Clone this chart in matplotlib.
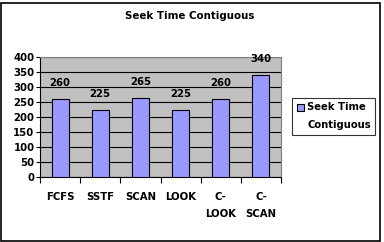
import matplotlib.pyplot as plt
from matplotlib.patches import Patch
import numpy as np

categories = ["FCFS", "SSTF", "SCAN", "LOOK", "C-\nLOOK", "C-\nSCAN"]
seek_time = [260, 225, 265, 225, 260, 340]
y_ticks = [0, 50, 100, 150, 200, 250, 300, 350, 400]

plt.rcParams['font.family'] = ['DejaVu Sans']
plt.rcParams['font.weight'] = 'bold'

W, H = 384, 242
fig = plt.figure(figsize=(W / 100, H / 100), dpi=100)
# plot area in pixels: x 40..281, y 57..177
ax = fig.add_axes([40 / W, 1 - 177 / H, 241 / W, 120 / H])
ax.set_facecolor('#c0c0c0')

x = np.arange(len(categories))
bars = ax.bar(x, seek_time, width=0.42, color='#9999ff', edgecolor='black', lw=0.8, zorder=3)
for xi, v in zip(x, seek_time):
    ax.text(xi, v + 36, str(v), ha='center', va='bottom', fontsize=7.3, fontweight='bold')

ax.set_xlim(-0.5, len(categories) - 0.5)
ax.set_ylim(0, 400)
ax.set_yticks(y_ticks)
ax.set_yticklabels([str(t) for t in y_ticks], fontsize=7.3, fontweight='bold')
ax.yaxis.grid(True, color='black', lw=0.8, zorder=0)
ax.set_axisbelow(True)

ax.set_xticks(np.arange(len(categories) + 1) - 0.5)
ax.set_xticklabels([])
ax.set_xticks(x, minor=True)
ax.set_xticklabels(categories, minor=True, fontsize=7.3, fontweight='bold', linespacing=1.9)
ax.tick_params(axis='x', which='minor', length=0, pad=11)
ax.tick_params(axis='x', which='major', length=4, width=0.8, direction='out')
ax.tick_params(axis='y', length=3, width=0.8, pad=1)

for s in ['top', 'right']:
    ax.spines[s].set_color('#808080')
    ax.spines[s].set_linewidth(0.8)
ax.spines['left'].set_color('black')
ax.spines['bottom'].set_color('black')

fig.text(190 / W, 1 - 16 / H, 'Seek Time Contiguous', ha='center', va='center',
         fontsize=7.4, fontweight='bold')

# legend: handle only on the first line of the wrapped series name
handles = [Patch(facecolor='#9999ff', edgecolor='black', lw=0.8),
           Patch(facecolor='none', edgecolor='none')]
leg = fig.legend(handles, ['Seek Time', 'Contiguous'], loc='upper left',
                 bbox_to_anchor=(292 / W, 1 - 98 / H), fontsize=7.2,
                 frameon=True, fancybox=False, edgecolor='black', handlelength=0.7,
                 handleheight=0.7, handletextpad=0.35, borderpad=0.45, labelspacing=0.75,
                 borderaxespad=0)
leg.get_frame().set_linewidth(0.8)

# outer border
fig.patches.append(plt.Rectangle((0.5 / W, 1.5 / H), 379 / W, 238 / H, transform=fig.transFigure,
                                 fill=False, edgecolor='black', lw=1.2))

fig.savefig('out.png', dpi=100)
